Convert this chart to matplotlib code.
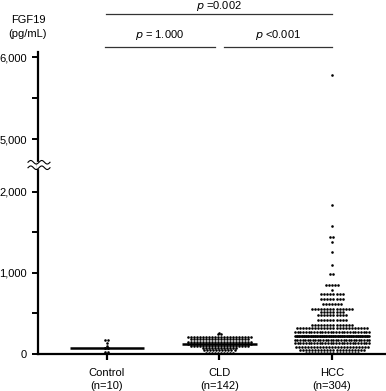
import numpy as np
import matplotlib.pyplot as plt
import matplotlib.transforms as mtransforms

plt.rcParams['font.family'] = ['Liberation Sans', 'DejaVu Sans']

groups = ['Control\n(n=10)', 'CLD\n(n=142)', 'HCC\n(n=304)']

control_levels = [173, 140, 95, 80, 70, 30]
control_counts = [2, 1, 1, 2, 2, 2]

cld_levels = [259, 247, 210, 185, 150, 120, 95, 75, 50, 15]
cld_counts = [1, 2, 22, 20, 22, 22, 20, 12, 11, 10]

hcc_levels = [5780, 1840, 1580, 1440, 1385, 1260, 1100, 990, 850, 790, 740, 680,
              617, 555, 520, 480, 420, 360, 320, 270, 222, 173, 136, 86, 50, 12]
hcc_counts = [1, 1, 1, 2, 1, 1, 1, 2, 5, 1, 8, 8,
              7, 14, 8, 10, 10, 14, 24, 28, 34, 30, 28, 25, 22, 18]

p_labels = ['$p$ =0.002', '$p$ = 1.000', '$p$ <0.001']

# y-axis ticks on the two segments of the broken axis
upper_ticks = [5000, 5500, 6000]
lower_ticks = [0, 500, 1000, 1500, 2000]


def expand(levels, counts):
    return np.repeat(levels, counts)


def swarm(levels, counts, centre, step=0.0267, half=0.33):
    xs, ys = [], []
    for lv, n in zip(levels, counts):
        sp = step if n < 2 else min(step, 2 * half / (n - 1))
        off = (np.arange(n) - (n - 1) / 2) * sp
        xs.extend(centre + off)
        ys.extend([lv] * n)
    return np.array(xs), np.array(ys)


data = [(control_levels, control_counts), (cld_levels, cld_counts), (hcc_levels, hcc_counts)]

fig = plt.figure(figsize=(3.86, 3.91), dpi=100)
W, H = 386, 391
left = 38 / W
ax_lo = fig.add_axes([left, 1 - 354 / H, 1 - left, (354 - 165) / H])
ax_hi = fig.add_axes([left, 1 - 165 / H, 1 - left, (165 - 52) / H])

for ax in (ax_lo, ax_hi):
    for i, (lv, ct) in enumerate(data):
        x, y = swarm(lv, ct, i)
        ax.scatter(x, y, s=3.5, c='black', linewidths=0, zorder=3)
        med = np.median(expand(lv, ct))
        ax.plot([i - 0.33, i + 0.33], [med, med], color='black', lw=1.8, zorder=4,
                solid_capstyle='butt')
    ax.set_xlim(-0.613, 2.48)
    for s in ('top', 'right'):
        ax.spines[s].set_visible(False)
    ax.spines['left'].set_linewidth(1.6)
    ax.tick_params(axis='y', length=4, width=1.4, labelsize=8, pad=4)

ax_lo.set_ylim(0, 2333)
ax_lo.set_yticks(lower_ticks)
ax_lo.set_yticklabels(['0', '', '1,000', '', '2,000'])
ax_lo.spines['bottom'].set_linewidth(1.6)
ax_lo.set_xticks(range(len(groups)))
ax_lo.set_xticklabels(groups, fontsize=8, linespacing=1.4)
ax_lo.tick_params(axis='x', length=4, width=1.6, pad=6)

ax_hi.set_ylim(4683, 6061)
ax_hi.set_yticks(upper_ticks)
ax_hi.set_yticklabels(['5,000', '', '6,000'])
ax_hi.spines['bottom'].set_visible(False)
ax_hi.set_xticks([])

# axis break marks
yb = 1 - 165 / H
fig.patches.append(plt.Rectangle((left - 0.002, yb - 0.007), 0.01, 0.014, transform=fig.transFigure,
                                 color='white', zorder=10))
t = np.linspace(0, 1, 60)
for dy in (0.007, -0.007):
    xs = (28 + 22 * t) / W
    ys = yb + dy + 0.0045 * np.sin(2 * np.pi * 2 * t)
    fig.add_artist(plt.Line2D(xs, ys, color='black', lw=0.8, transform=fig.transFigure, zorder=11))

# y-axis title
fig.text(28 / W, 1 - 27 / H, 'FGF19\n(pg/mL)', ha='center', va='center', fontsize=8, linespacing=1.45)

# significance brackets
tr = mtransforms.blended_transform_factory(ax_lo.transData, fig.transFigure)
brackets = [(-0.01, 2.0, 14, 6), (-0.02, 0.96, 47, 35), (1.04, 2.0, 47, 35)]
for (x0, x1, yl, yt), lab in zip(brackets, p_labels):
    fig.add_artist(plt.Line2D([x0, x1], [1 - yl / H] * 2, color='#333333', lw=0.9, transform=tr))
    fig.text((x0 + x1) / 2, 1 - yt / H, lab, transform=tr, ha='center', va='center', fontsize=8)

fig.savefig('out.png', dpi=100)
